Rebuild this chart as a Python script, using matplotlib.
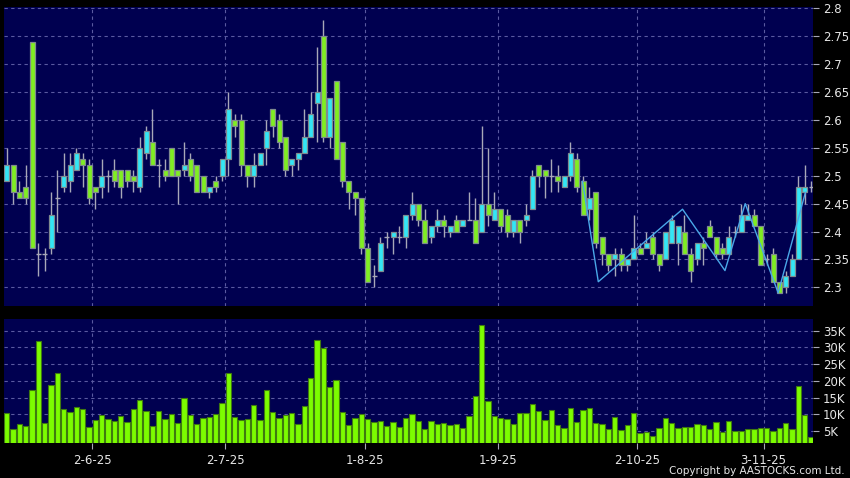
import matplotlib
matplotlib.use('Agg')
import matplotlib.pyplot as plt
import numpy as np

# ── Daily OHLC (index 0 = first session shown) ───────────────────────────────
opens = [2.49, 2.52, 2.47, 2.48, 2.74, 2.36, 2.36, 2.37, 2.46, 2.48,
         2.49, 2.51, 2.53, 2.52, 2.48, 2.48, 2.50, 2.51, 2.51, 2.51,
         2.50, 2.48, 2.54, 2.56, 2.52, 2.51, 2.55, 2.51, 2.51, 2.53,
         2.52, 2.50, 2.47, 2.49, 2.50, 2.53, 2.60, 2.60, 2.52, 2.50,
         2.52, 2.55, 2.62, 2.60, 2.57, 2.52, 2.53, 2.54, 2.57, 2.63,
         2.75, 2.57, 2.67, 2.56, 2.49, 2.47, 2.46, 2.37, 2.32, 2.33,
         2.39, 2.39, 2.39, 2.39, 2.43, 2.45, 2.42, 2.39, 2.41, 2.42,
         2.40, 2.42, 2.41, 2.42, 2.42, 2.40, 2.45, 2.42, 2.44, 2.43,
         2.40, 2.42, 2.42, 2.44, 2.52, 2.51, 2.50, 2.50, 2.48, 2.50,
         2.53, 2.49, 2.44, 2.47, 2.39, 2.36, 2.35, 2.36, 2.34, 2.35,
         2.37, 2.37, 2.39, 2.36, 2.35, 2.38, 2.38, 2.40, 2.36, 2.35,
         2.38, 2.41, 2.39, 2.37, 2.36, 2.40, 2.40, 2.42, 2.43, 2.41,
         2.35, 2.36, 2.31, 2.30, 2.32, 2.35, 2.47, 2.48]
highs = [2.55, 2.52, 2.49, 2.52, 2.74, 2.38, 2.37, 2.47, 2.51, 2.54,
         2.54, 2.55, 2.54, 2.53, 2.48, 2.53, 2.51, 2.53, 2.51, 2.51,
         2.51, 2.57, 2.59, 2.62, 2.53, 2.53, 2.55, 2.51, 2.56, 2.54,
         2.52, 2.50, 2.48, 2.50, 2.53, 2.65, 2.61, 2.61, 2.52, 2.54,
         2.54, 2.60, 2.62, 2.61, 2.57, 2.53, 2.54, 2.62, 2.65, 2.73,
         2.78, 2.64, 2.67, 2.56, 2.49, 2.47, 2.46, 2.38, 2.34, 2.39,
         2.40, 2.40, 2.41, 2.43, 2.47, 2.45, 2.44, 2.41, 2.44, 2.43,
         2.41, 2.43, 2.42, 2.47, 2.46, 2.59, 2.55, 2.47, 2.44, 2.44,
         2.42, 2.42, 2.45, 2.51, 2.52, 2.51, 2.53, 2.52, 2.50, 2.56,
         2.54, 2.50, 2.48, 2.47, 2.39, 2.36, 2.37, 2.37, 2.35, 2.43,
         2.38, 2.40, 2.40, 2.36, 2.40, 2.43, 2.41, 2.43, 2.37, 2.38,
         2.39, 2.42, 2.39, 2.38, 2.41, 2.41, 2.45, 2.45, 2.44, 2.41,
         2.36, 2.37, 2.31, 2.33, 2.36, 2.50, 2.52, 2.49]
lows = [2.49, 2.45, 2.46, 2.45, 2.37, 2.32, 2.33, 2.36, 2.40, 2.47,
        2.47, 2.51, 2.48, 2.45, 2.44, 2.46, 2.47, 2.48, 2.46, 2.48,
        2.47, 2.47, 2.53, 2.52, 2.48, 2.49, 2.50, 2.45, 2.50, 2.49,
        2.47, 2.47, 2.46, 2.47, 2.49, 2.50, 2.57, 2.50, 2.48, 2.48,
        2.52, 2.52, 2.57, 2.55, 2.50, 2.50, 2.51, 2.54, 2.57, 2.56,
        2.56, 2.55, 2.53, 2.48, 2.44, 2.43, 2.36, 2.31, 2.30, 2.33,
        2.37, 2.36, 2.38, 2.37, 2.42, 2.41, 2.38, 2.38, 2.40, 2.39,
        2.39, 2.40, 2.41, 2.42, 2.38, 2.40, 2.41, 2.42, 2.40, 2.39,
        2.39, 2.38, 2.41, 2.44, 2.48, 2.46, 2.47, 2.47, 2.48, 2.49,
        2.47, 2.43, 2.42, 2.37, 2.34, 2.33, 2.32, 2.33, 2.33, 2.35,
        2.36, 2.37, 2.35, 2.33, 2.35, 2.38, 2.34, 2.36, 2.31, 2.34,
        2.34, 2.39, 2.35, 2.35, 2.36, 2.39, 2.40, 2.42, 2.41, 2.34,
        2.34, 2.31, 2.29, 2.29, 2.32, 2.35, 2.45, 2.47]
closes = [2.52, 2.47, 2.46, 2.46, 2.37, 2.36, 2.36, 2.43, 2.46, 2.50,
          2.52, 2.54, 2.52, 2.46, 2.47, 2.50, 2.50, 2.49, 2.48, 2.49,
          2.49, 2.55, 2.58, 2.52, 2.52, 2.50, 2.50, 2.50, 2.52, 2.50,
          2.47, 2.47, 2.48, 2.48, 2.53, 2.62, 2.59, 2.52, 2.50, 2.52,
          2.54, 2.58, 2.59, 2.56, 2.51, 2.53, 2.54, 2.57, 2.61, 2.65,
          2.57, 2.64, 2.53, 2.49, 2.47, 2.46, 2.37, 2.31, 2.32, 2.38,
          2.39, 2.40, 2.39, 2.43, 2.45, 2.42, 2.38, 2.41, 2.42, 2.41,
          2.41, 2.40, 2.42, 2.42, 2.38, 2.45, 2.43, 2.44, 2.41, 2.40,
          2.42, 2.40, 2.43, 2.50, 2.50, 2.50, 2.50, 2.49, 2.50, 2.54,
          2.48, 2.43, 2.46, 2.38, 2.36, 2.34, 2.36, 2.34, 2.35, 2.37,
          2.36, 2.38, 2.36, 2.34, 2.40, 2.42, 2.41, 2.36, 2.33, 2.38,
          2.37, 2.39, 2.36, 2.36, 2.39, 2.40, 2.43, 2.43, 2.41, 2.34,
          2.35, 2.31, 2.29, 2.32, 2.35, 2.48, 2.48, 2.48]

# ── Daily volume, thousands of shares ────────────────────────────────────────
volumes = [10.5, 5.5, 7.2, 6.4, 17.2, 32.0, 7.4, 18.6, 22.2, 11.5,
           10.6, 12.2, 11.5, 6.2, 8.2, 9.7, 8.5, 8.0, 9.6, 7.7,
           11.7, 14.2, 11.0, 6.6, 11.1, 8.6, 10.0, 7.5, 15.0, 9.7,
           7.2, 8.8, 9.2, 10.2, 13.3, 22.3, 9.2, 8.4, 8.6, 12.7,
           8.3, 17.1, 10.8, 8.9, 9.9, 10.5, 7.0, 12.5, 20.7, 32.1,
           29.9, 18.0, 20.1, 10.7, 6.7, 8.9, 10.0, 8.6, 7.7, 8.1,
           6.6, 7.8, 6.2, 8.8, 10.2, 8.0, 5.7, 8.1, 7.2, 7.4,
           6.7, 7.0, 6.0, 9.6, 15.6, 36.7, 14.1, 9.4, 9.0, 8.7,
           7.2, 10.5, 10.5, 13.1, 11.0, 8.4, 11.4, 6.8, 5.9, 11.9,
           7.7, 11.4, 12.0, 7.3, 7.1, 5.6, 9.1, 5.3, 6.9, 10.3,
           4.3, 4.6, 3.6, 5.9, 8.8, 7.3, 5.8, 6.1, 6.1, 7.1,
           6.9, 5.6, 7.8, 4.8, 7.9, 5.0, 5.0, 5.5, 5.5, 5.8,
           5.8, 5.1, 5.9, 7.3, 5.7, 18.5, 9.7, 3.1]

# ── Pattern line drawn over the last months (session index, price) ───────────
zigzag_idx = [90.9, 93.4, 106.7, 113.4, 116.6, 121.8, 126.1]
zigzag_px = [2.49, 2.31, 2.44, 2.33, 2.45, 2.29, 2.47]

# ── Month labels: first session of each month ────────────────────────────────
month_start = [14, 35, 57, 78, 100, 120]
month_labels = ['2-6-25', '2-7-25', '1-8-25', '1-9-25', '2-10-25', '3-11-25']

price_ticks = [2.3, 2.35, 2.4, 2.45, 2.5, 2.55, 2.6, 2.65, 2.7, 2.75, 2.8]
vol_ticks = [5, 10, 15, 20, 25, 30, 35]

PANEL = '#000050'
GRID = '#5a5aa0'
TEXT = '#e6e6e6'
UP = '#33e6f5'
DOWN = '#80ee22'
WICK = '#a8a8b8'
EDGE = '#7f8a8f'

W, H = 850, 478
fig = plt.figure(figsize=(W / 100, H / 100), dpi=100, facecolor='black')
ax_p = fig.add_axes([4 / W, 1 - 306 / H, 809 / W, 299.3 / H])
ax_v = fig.add_axes([4 / W, 1 - 443.3 / H, 809 / W, 124 / H])

n = len(closes)
x = np.arange(n)
o, h, l, c = (np.array(a) for a in (opens, highs, lows, closes))
xlim = (-0.43, n - 0.7)
grid_x = [m - 0.5 for m in month_start]

for ax in (ax_p, ax_v):
    ax.set_facecolor(PANEL)
    for s in ax.spines.values():
        s.set_visible(False)
    ax.set_xlim(*xlim)
    ax.yaxis.tick_right()
    ax.tick_params(axis='y', colors=WICK, labelcolor=TEXT, labelsize=8.5,
                   length=4, width=0.8, pad=3)
    for gx in grid_x:
        ax.axvline(gx, color=GRID, lw=0.8, dashes=(3, 3), zorder=1)

# ── Price panel ──────────────────────────────────────────────────────────────
ax_p.set_ylim(2.2665, 2.803)
ax_p.set_yticks(price_ticks)
ax_p.set_yticklabels([f'{v:g}' for v in price_ticks])
ax_p.set_xticks([])
for v in price_ticks:
    ax_p.axhline(v, color=GRID, lw=0.8, dashes=(3, 3), zorder=1)

ax_p.vlines(x, l, h, color=WICK, lw=1, zorder=2)
up = c > o
dn = c < o
eq = c == o
ax_p.bar(x[up], (c - o)[up], 0.8, bottom=o[up], color=UP,
         edgecolor=EDGE, linewidth=0.9, zorder=3)
ax_p.bar(x[dn], (o - c)[dn], 0.8, bottom=c[dn], color=DOWN,
         edgecolor=EDGE, linewidth=0.9, zorder=3)
ax_p.hlines(c[eq], x[eq] - 0.4, x[eq] + 0.4, color=WICK, lw=1, zorder=3)
ax_p.plot(zigzag_idx, zigzag_px, color='#4aa8e8', lw=1, zorder=4)

# ── Volume panel ─────────────────────────────────────────────────────────────
ax_v.set_ylim(1.3, 38.4)
ax_v.set_yticks(vol_ticks)
ax_v.set_yticklabels([f'{v}K' for v in vol_ticks])
for v in vol_ticks:
    ax_v.axhline(v, color=GRID, lw=0.8, dashes=(3, 3), zorder=1)
ax_v.bar(x, volumes, 0.84, color='#7cfc00', edgecolor='#3f7a10',
         linewidth=0.8, zorder=3)
ax_v.set_xticks(grid_x)
ax_v.set_xticklabels(month_labels)
ax_v.tick_params(axis='x', colors=WICK, labelcolor=TEXT, labelsize=8.5,
                 length=4, width=0.8, pad=4)

fig.text(845 / W, 1 - 471 / H, 'Copyright by AASTOCKS.com Ltd.',
         color=TEXT, fontsize=7.5, ha='right', va='center')

fig.savefig('out.png', dpi=100, facecolor='black')
